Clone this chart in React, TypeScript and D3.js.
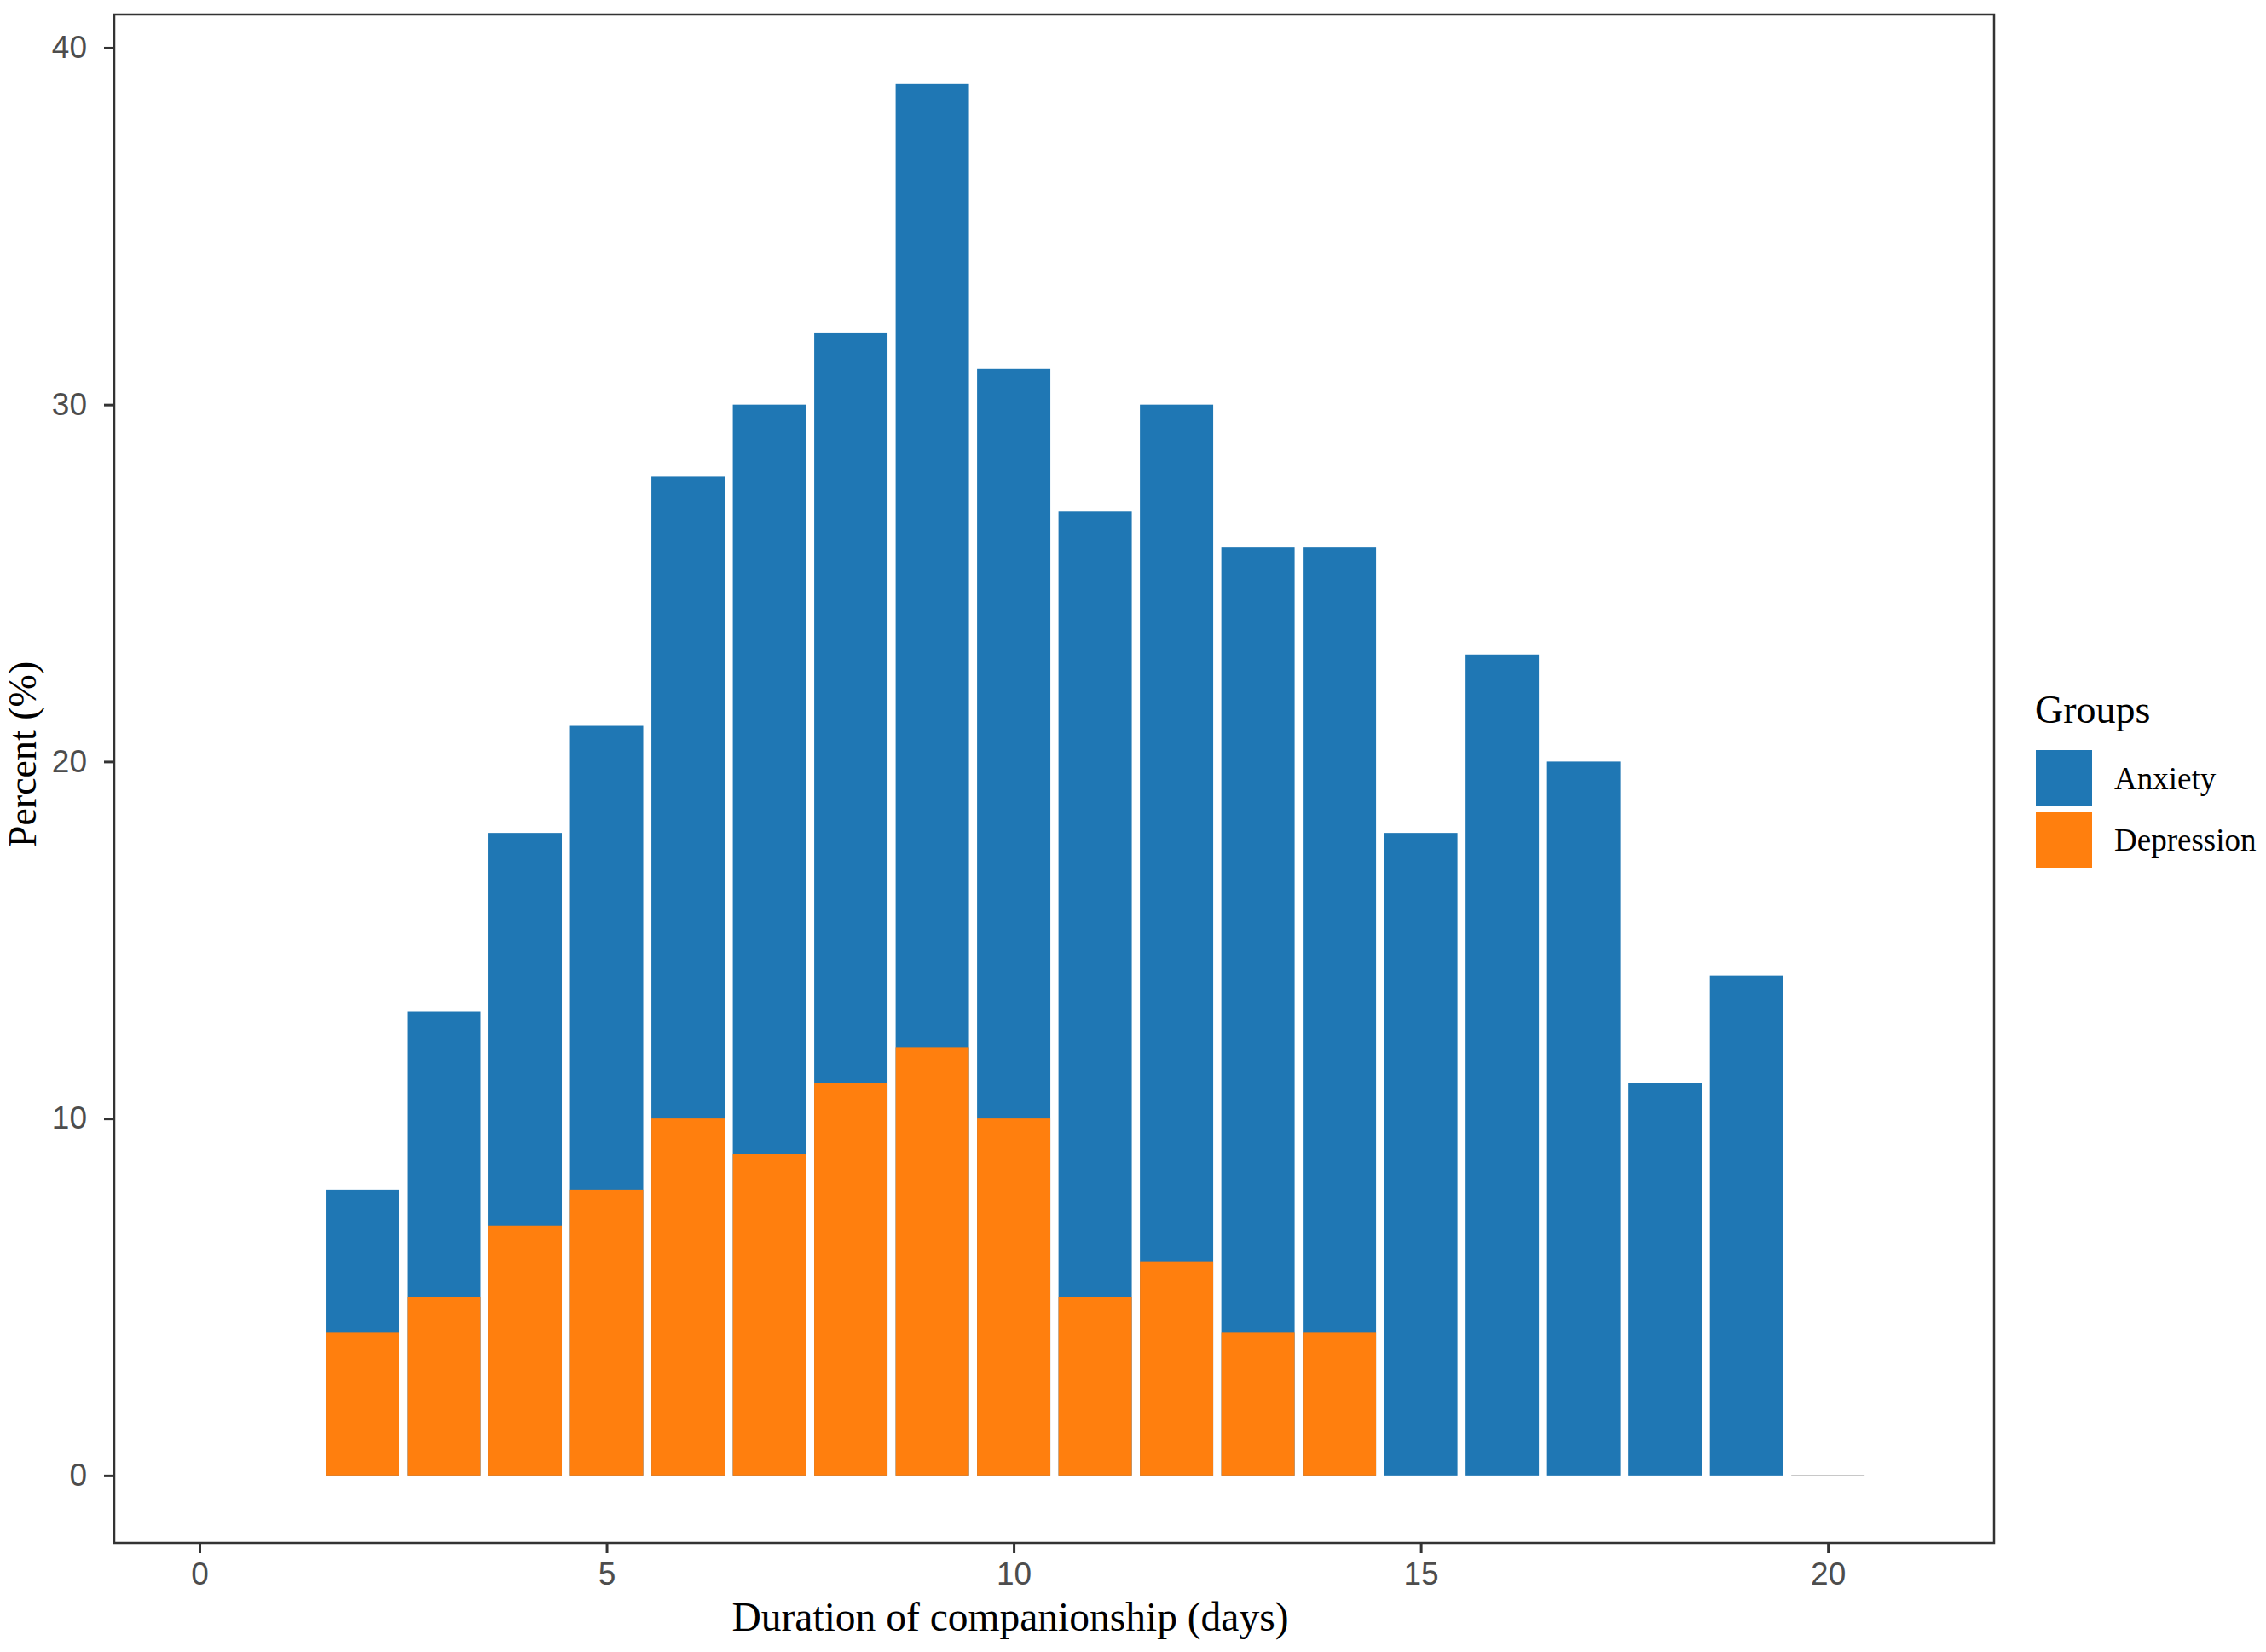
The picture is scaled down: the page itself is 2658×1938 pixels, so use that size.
import { useEffect, useRef } from 'react';
import * as d3 from 'd3';

const days = [2, 3, 4, 5, 6, 7, 8, 9, 10, 11, 12, 13, 14, 15, 16, 17, 18, 19, 20];
const anxiety = [8, 13, 18, 21, 28, 30, 32, 39, 31, 27, 30, 26, 26, 18, 23, 20, 11, 14, 0];
const depression = [4, 5, 7, 8, 10, 9, 11, 12, 10, 5, 6, 4, 4, 0, 0, 0, 0, 0, 0];
const groups = ['Anxiety', 'Depression'];
const groupColors = ['#1f77b4', '#ff7f0e'];
const xTicks = [0, 5, 10, 15, 20];
const yTicks = [0, 10, 20, 30, 40];

const W = 2658;
const H = 1938;

export default function App() {
  const svgRef = useRef<SVGSVGElement>(null);

  useEffect(() => {
    document.body.style.margin = '0';
    if (!svgRef.current) return;

    const svg = d3.select(svgRef.current);
    svg.selectAll('*').remove();

    const panel = { left: 134, right: 2339, top: 17, bottom: 1810 };

    const x = d3.scaleLinear().domain([-1.047, 22.04]).range([panel.left, panel.right]);
    const y = d3.scaleLinear().domain([-1.89, 40.93]).range([panel.bottom, panel.top]);
    const color = d3.scaleOrdinal<string, string>().domain(groups).range(groupColors);
    const barW = x(0.9) - x(0);

    svg.append('rect').attr('width', W).attr('height', H).attr('fill', '#ffffff');

    const bars = svg.append('g');

    // Anxiety bars, depression drawn over them
    days.forEach((d, i) => {
      const x0 = x(d) - barW / 2;
      if (anxiety[i] > 0) {
        bars.append('rect')
          .attr('x', x0)
          .attr('y', y(anxiety[i]))
          .attr('width', barW)
          .attr('height', y(0) - y(anxiety[i]))
          .attr('fill', color('Anxiety'));
      } else {
        bars.append('line')
          .attr('x1', x0)
          .attr('x2', x0 + barW)
          .attr('y1', y(0))
          .attr('y2', y(0))
          .attr('stroke', '#c8c8c8')
          .attr('stroke-width', 1.5);
      }
      if (depression[i] > 0) {
        bars.append('rect')
          .attr('x', x0)
          .attr('y', y(depression[i]))
          .attr('width', barW)
          .attr('height', y(0) - y(depression[i]))
          .attr('fill', color('Depression'));
      }
    });

    // Panel border
    svg.append('rect')
      .attr('x', panel.left)
      .attr('y', panel.top)
      .attr('width', panel.right - panel.left)
      .attr('height', panel.bottom - panel.top)
      .attr('fill', 'none')
      .attr('stroke', '#333333')
      .attr('stroke-width', 2.5);

    // Axes
    const yAxis = svg.append('g')
      .attr('transform', `translate(${panel.left},0)`)
      .call(d3.axisLeft(y).tickValues(yTicks).tickSize(12).tickSizeOuter(0).tickPadding(20));
    const xAxis = svg.append('g')
      .attr('transform', `translate(0,${panel.bottom})`)
      .call(d3.axisBottom(x).tickValues(xTicks).tickSize(12).tickSizeOuter(0).tickPadding(11));

    [yAxis, xAxis].forEach(ax => {
      ax.select('.domain').remove();
      ax.selectAll('.tick line').attr('stroke', '#333333').attr('stroke-width', 3);
      ax.selectAll('.tick text')
        .attr('fill', '#4d4d4d')
        .attr('font-size', '37px')
        .attr('font-family', '"Liberation Sans", Arial, sans-serif');
    });

    // Axis titles
    svg.append('text')
      .attr('x', 1185)
      .attr('y', 1913)
      .attr('text-anchor', 'middle')
      .attr('font-family', '"Liberation Serif", "Times New Roman", serif')
      .attr('font-size', '47.5px')
      .attr('fill', '#000000')
      .text('Duration of companionship (days)');

    svg.append('text')
      .attr('transform', 'translate(42,885) rotate(-90)')
      .attr('text-anchor', 'middle')
      .attr('font-family', '"Liberation Serif", "Times New Roman", serif')
      .attr('font-size', '46px')
      .attr('fill', '#000000')
      .text('Percent (%)');

    // Legend
    const legend = svg.append('g').attr('transform', 'translate(2387,0)');
    legend.append('text')
      .attr('x', 0)
      .attr('y', 848)
      .attr('font-family', '"Liberation Serif", "Times New Roman", serif')
      .attr('font-size', '46px')
      .attr('fill', '#000000')
      .text('Groups');

    groups.forEach((g, i) => {
      const top = 880 + i * 72;
      legend.append('rect')
        .attr('x', 1)
        .attr('y', top)
        .attr('width', 66)
        .attr('height', 66)
        .attr('fill', color(g));
      legend.append('text')
        .attr('x', 93)
        .attr('y', top + 46)
        .attr('font-family', '"Liberation Serif", "Times New Roman", serif')
        .attr('font-size', '37px')
        .attr('fill', '#000000')
        .text(g);
    });
  }, []);

  return <svg ref={svgRef} width={W} height={H} style={{ display: 'block' }} />;
}
